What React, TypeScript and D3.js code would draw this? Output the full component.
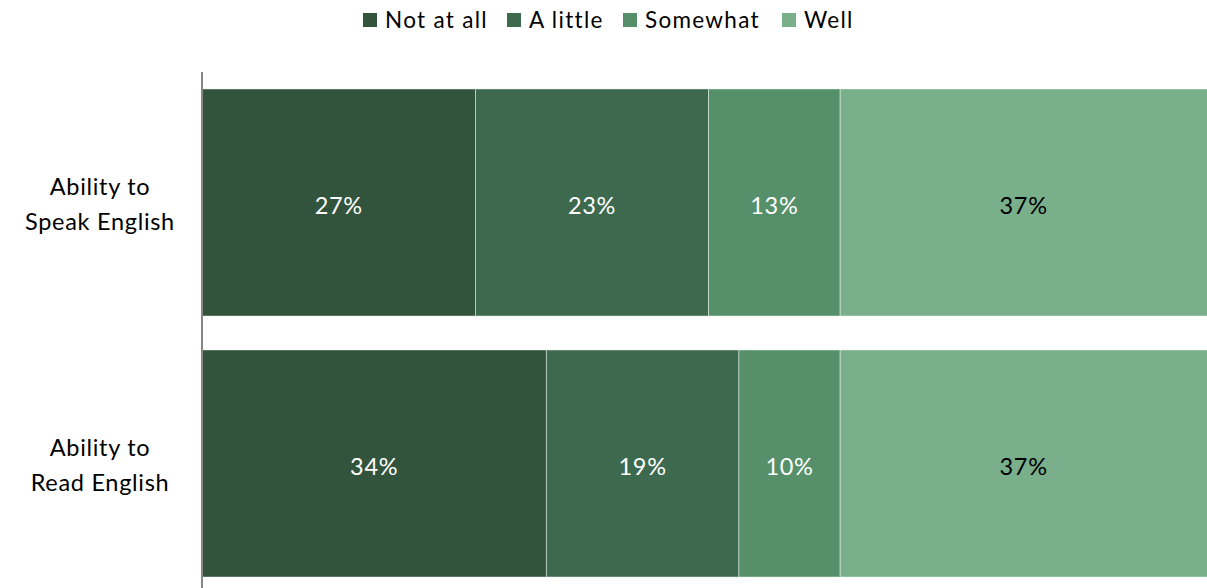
import React from "react";
import * as d3 from "d3";

const categories = ["Ability to\nSpeak English", "Ability to\nRead English"];
const seriesNames = ["Not at all", "A little", "Somewhat", "Well"];
const speakValues = [27, 23, 13, 37];
const readValues = [34, 19, 10, 37];
const colors = ["#32543C", "#3D6A4E", "#55906A", "#79AF8A"];
const labelColors = ["#FFFFFF", "#FFFFFF", "#FFFFFF", "#000000"];

const W = 1207;
const H = 588;
const FONT = "Lato, 'Open Sans', sans-serif";

export default function App() {
  const rows = [speakValues, readValues];
  const x = d3.scaleLinear().domain([0, 100]).range([202, 1215]);
  const y = d3
    .scaleBand<number>()
    .domain([0, 1])
    .range([72, 594])
    .paddingInner(0.13)
    .paddingOuter(0.065);

  const legendX = [363, 507, 623, 782];

  return (
    <svg
      width={W}
      height={H}
      style={{ position: "absolute", left: 0, top: 0, display: "block" }}
      fontFamily={FONT}
    >
      <rect width={W} height={H} fill="#fff" />
      {/* legend */}
      {seriesNames.map((s, i) => (
        <g key={s} transform={`translate(${legendX[i]},0)`}>
          <rect x={0} y={13} width={14} height={14} fill={colors[i]} />
          <text x={22} y={27.5} fontSize={22.5} letterSpacing={1.3} fill="#000">
            {s}
          </text>
        </g>
      ))}
      {/* bars */}
      {rows.map((vals, r) => {
        const cum = d3.cumsum(vals);
        const y0 = y(r)!;
        const bh = y.bandwidth();
        const cy = y0 + bh / 2;
        return (
          <g key={r}>
            {vals.map((v, i) => {
              const start = i === 0 ? 0 : cum[i - 1];
              const x0 = x(start);
              const x1 = x(start + v);
              return (
                <g key={i}>
                  <rect
                    x={x0}
                    y={y0}
                    width={x1 - x0}
                    height={bh}
                    fill={colors[i]}
                    stroke="#ffffff"
                    strokeOpacity={0.45}
                    strokeWidth={1}
                  />
                  <text
                    x={(x0 + x1) / 2 + (i === 3 ? -4 : 0)}
                    y={cy + 11.5}
                    textAnchor="middle"
                    fontSize={23.5}
                    letterSpacing={0.7}
                    fill={labelColors[i]}
                  >
                    {v}%
                  </text>
                </g>
              );
            })}
            {categories[r].split("\n").map((line, li) => (
              <text
                key={li}
                x={100}
                y={cy - 8 + li * 35}
                textAnchor="middle"
                fontSize={23.5}
                letterSpacing={0.7}
                fill="#000"
              >
                {line}
              </text>
            ))}
          </g>
        );
      })}
      {/* axis */}
      <line x1={202} x2={202} y1={72} y2={594} stroke="#868686" strokeWidth={2} />
    </svg>
  );
}
